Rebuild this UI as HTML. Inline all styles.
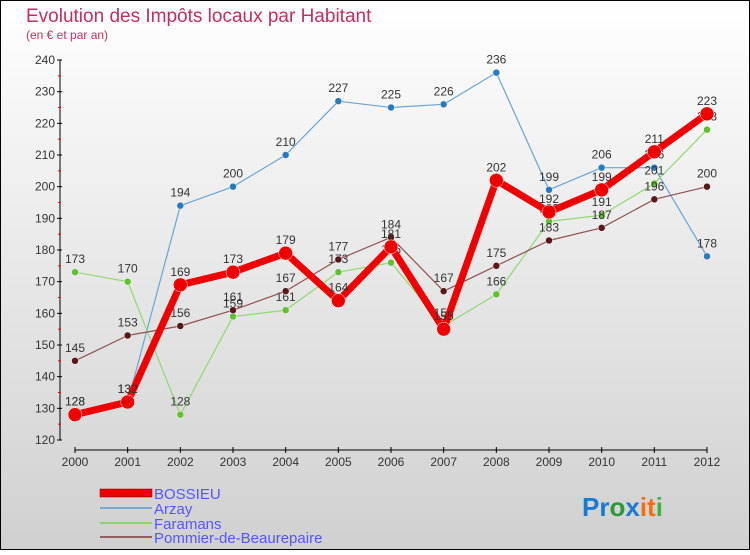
<!DOCTYPE html>
<html><head><meta charset="utf-8"><style>
body{margin:0}
#c{width:750px;height:550px;position:relative;font-family:"Liberation Sans",sans-serif}
</style></head><body>
<div id="c">
<svg id="s" width="750" height="550" xmlns="http://www.w3.org/2000/svg">
<defs><linearGradient id="bg" x1="0" y1="0" x2="0" y2="1"><stop offset="0" stop-color="#ffffff"/><stop offset="1" stop-color="#d0d0d0"/></linearGradient></defs>
<rect x="0.5" y="0.5" width="749" height="549" fill="url(#bg)" stroke="#000"/>
<text x="26" y="22" font-size="19" fill="#c0305a">Evolution des Impôts locaux par Habitant</text>
<text x="26" y="39" font-size="12" fill="#c0305a">(en € et par an)</text>
<g id="axes"></g><g id="series"></g>
<g>
<rect x="100" y="489" width="52" height="8" fill="#e00" stroke="#800" stroke-width="0.5"/>
<text x="154" y="499" font-size="15" fill="#5555ff">BOSSIEU</text>
<line x1="100" y1="508" x2="152" y2="508" stroke="#7aaad0" stroke-width="2"/>
<text x="154" y="514" font-size="15" fill="#5555ff">Arzay</text>
<line x1="100" y1="523" x2="152" y2="523" stroke="#90d070" stroke-width="2"/>
<text x="154" y="529" font-size="15" fill="#5555ff">Faramans</text>
<line x1="100" y1="537" x2="152" y2="537" stroke="#906060" stroke-width="2"/>
<text x="154" y="543" font-size="15" fill="#5555ff">Pommier-de-Beaurepaire</text>
</g>
<text x="582" y="516" font-size="26" font-weight="bold"><tspan fill="#1a7ad0">Pr</tspan><tspan fill="#2a9a3a">o</tspan><tspan fill="#1a7ad0">x</tspan><tspan fill="#f07010">it</tspan><tspan fill="#40b040">i</tspan></text>
</svg>
</div>
<script>
const years=[2000,2001,2002,2003,2004,2005,2006,2007,2008,2009,2010,2011,2012];
const yTicks=[120,130,140,150,160,170,180,190,200,210,220,230,240];
const bossieu=[128,132,169,173,179,164,181,155,202,192,199,211,223];
const arzay=[128,132,194,200,210,227,225,226,236,199,206,206,178];
const faramans=[173,170,128,159,161,173,176,156,166,189,191,201,218];
const pommier=[145,153,156,161,167,177,184,167,175,183,187,196,200];
const NS="http://www.w3.org/2000/svg";
const X=i=>75+i*(707-75)/12;
const Y=v=>440-(v-120)*(380/120);
function mk(t,a,p){const e=document.createElementNS(NS,t);for(const k in a)e.setAttribute(k,a[k]);p.appendChild(e);return e;}
const ax=document.getElementById('axes');
let yl=mk('line',{x1:60,y1:Y(240),x2:60,y2:Y(120),stroke:'#000'},ax);


let xl=mk('line',{x1:X(0),y1:450,x2:X(12),y2:450,stroke:'#000'},ax);


yTicks.forEach((v,i)=>{
 mk('line',{x1:57,y1:Y(v),x2:62,y2:Y(v),stroke:'#000'},ax);
 if(i<yTicks.length-1)mk('line',{x1:58,y1:Y(v+5),x2:61,y2:Y(v+5),stroke:'#e00'},ax);
 const t=mk('text',{x:55,y:Y(v)+4,'font-size':12,fill:'#333','text-anchor':'end'},ax);t.textContent=v;
 
 
});
years.forEach((y,i)=>{
 mk('line',{x1:X(i),y1:447,x2:X(i),y2:453,stroke:'#000'},ax);
 const t=mk('text',{x:X(i),y:466,'font-size':12,fill:'#333','text-anchor':'middle'},ax);t.textContent=y;
 
 
});
const sg=document.getElementById('series');
function draw(data,name,col,dot,w,r){
 const g=mk('g',{},sg);
 
 
 mk('polyline',{points:data.map((v,i)=>X(i)+','+Y(v)).join(' '),fill:'none',stroke:col,'stroke-width':w,'stroke-linejoin':'round'},g);
 data.forEach((v,i)=>{
  const c=mk('circle',{cx:X(i),cy:Y(v),r:r,fill:dot,stroke:'#fff','stroke-width':0.5},g);
  
  
  const t=mk('text',{x:X(i),y:Y(v)-9,'font-size':12,fill:'#333','text-anchor':'middle'},g);t.textContent=v;
  
  
 });
}
draw(arzay,'arzay','#6aa4d4','#2a7ac0',1.2,3.5);
draw(faramans,'faramans','#90d870','#60c030',1.2,3.5);
draw(pommier,'pommier','#905050','#5a1818',1.2,3.5);
draw(bossieu,'bossieu','#ee0000','#ee0000',7,7);
</script>
</body></html>
